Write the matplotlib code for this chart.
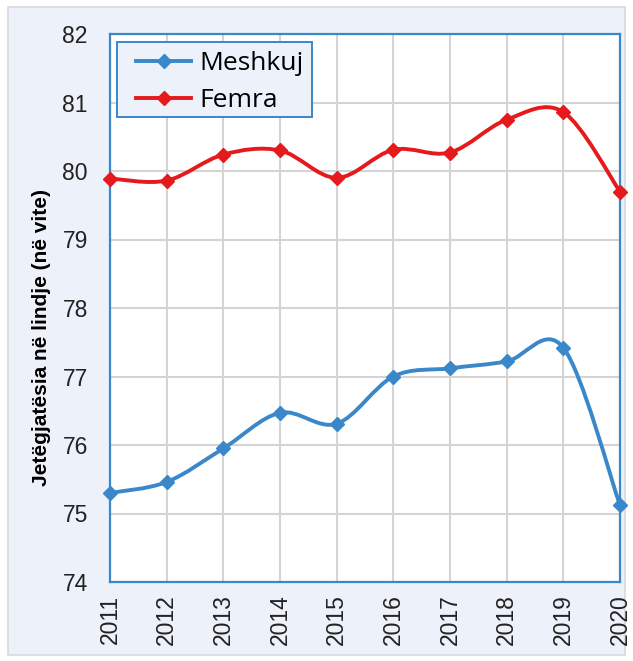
import numpy as np
import matplotlib.pyplot as plt
from matplotlib.path import Path
from matplotlib.patches import PathPatch, Rectangle
from matplotlib.lines import Line2D

years = [2011, 2012, 2013, 2014, 2015, 2016, 2017, 2018, 2019, 2020]
meshkuj = [75.3, 75.46, 75.95, 76.47, 76.31, 77.0, 77.12, 77.22, 77.42, 75.12]
femra = [79.89, 79.86, 80.24, 80.3, 79.9, 80.31, 80.27, 80.75, 80.86, 79.7]

blue = '#3a87c9'
red = '#e41a1c'
bg = '#edf1f9'


def smooth_path(xs, ys):
    # Catmull-Rom style bezier segments (like spreadsheet smoothed lines)
    pts = np.column_stack([xs, ys]).astype(float)
    n = len(pts)
    verts = [pts[0]]
    codes = [Path.MOVETO]
    for i in range(n - 1):
        p0 = pts[i - 1] if i > 0 else pts[i]
        p1 = pts[i]
        p2 = pts[i + 1]
        p3 = pts[i + 2] if i + 2 < n else pts[i + 1]
        c1 = p1 + (p2 - p0) / 6.0
        c2 = p2 - (p3 - p1) / 6.0
        verts += [c1, c2, p2]
        codes += [Path.CURVE4] * 3
    return Path(verts, codes)


fig = plt.figure(figsize=(6.33, 6.61), dpi=100)
fig.patch.set_facecolor('white')
fig.add_artist(Rectangle((8 / 633, 6 / 661), 617 / 633, 648 / 661,
                         transform=fig.transFigure, facecolor=bg,
                         edgecolor='#d9d9d9', linewidth=1.2, zorder=-1))

ax = fig.add_axes([110 / 633, 79 / 661, 510 / 633, 548 / 661])
ax.set_facecolor('white')

for vals, col in [(meshkuj, blue), (femra, red)]:
    ax.add_patch(PathPatch(smooth_path(years, vals), facecolor='none',
                           edgecolor=col, linewidth=2.8, zorder=3,
                           capstyle='round', clip_on=False))
    ax.plot(years, vals, linestyle='none', marker='D', markersize=7.5,
            color=col, zorder=4, clip_on=False)

ax.set_xlim(2011, 2020)
ax.set_ylim(74, 82)
ax.set_xticks(years)
ax.set_xticklabels([str(y) for y in years], rotation=90,
                   fontsize=16.5, family='Liberation Sans')
ax.set_yticks(range(74, 83))
ax.set_yticklabels([str(v) for v in range(74, 83)], fontsize=16.5,
                   family='Liberation Sans')
ax.tick_params(length=0, colors='#222222')
ax.tick_params(axis='x', pad=9)
ax.tick_params(axis='y', pad=16)
ax.grid(True, color='#d4d4d4', linewidth=1.5)
ax.set_axisbelow(True)
for s in ax.spines.values():
    s.set_color(blue)
    s.set_linewidth(1.6)

ax.set_ylabel('Jetëgjatësia në lindje (në vite)', fontsize=15,
              fontweight='bold', family='Liberation Sans')
ax.yaxis.set_label_coords(-0.116, 0.447)

# legend box drawn separately so its padding can differ from the text spacing
ax.add_patch(Rectangle((7 / 510, 465 / 548), 195 / 510, 75 / 548,
                       transform=ax.transAxes, facecolor=bg,
                       edgecolor=blue, linewidth=1.4, zorder=5))
handles = [Line2D([], [], color=blue, lw=2.8, marker='D', markersize=7.5),
           Line2D([], [], color=red, lw=2.8, marker='D', markersize=7.5)]
leg = ax.legend(handles, ['Meshkuj', 'Femra'], loc='upper left',
                bbox_to_anchor=(26 / 510, 0.969),
                prop={'family': 'Open Sans', 'size': 19},
                frameon=False, handlelength=2.1,
                borderpad=0, labelspacing=0.45, handletextpad=0.3,
                borderaxespad=0)
leg.set_zorder(6)

fig.savefig('out.png', dpi=100, facecolor=fig.get_facecolor())
